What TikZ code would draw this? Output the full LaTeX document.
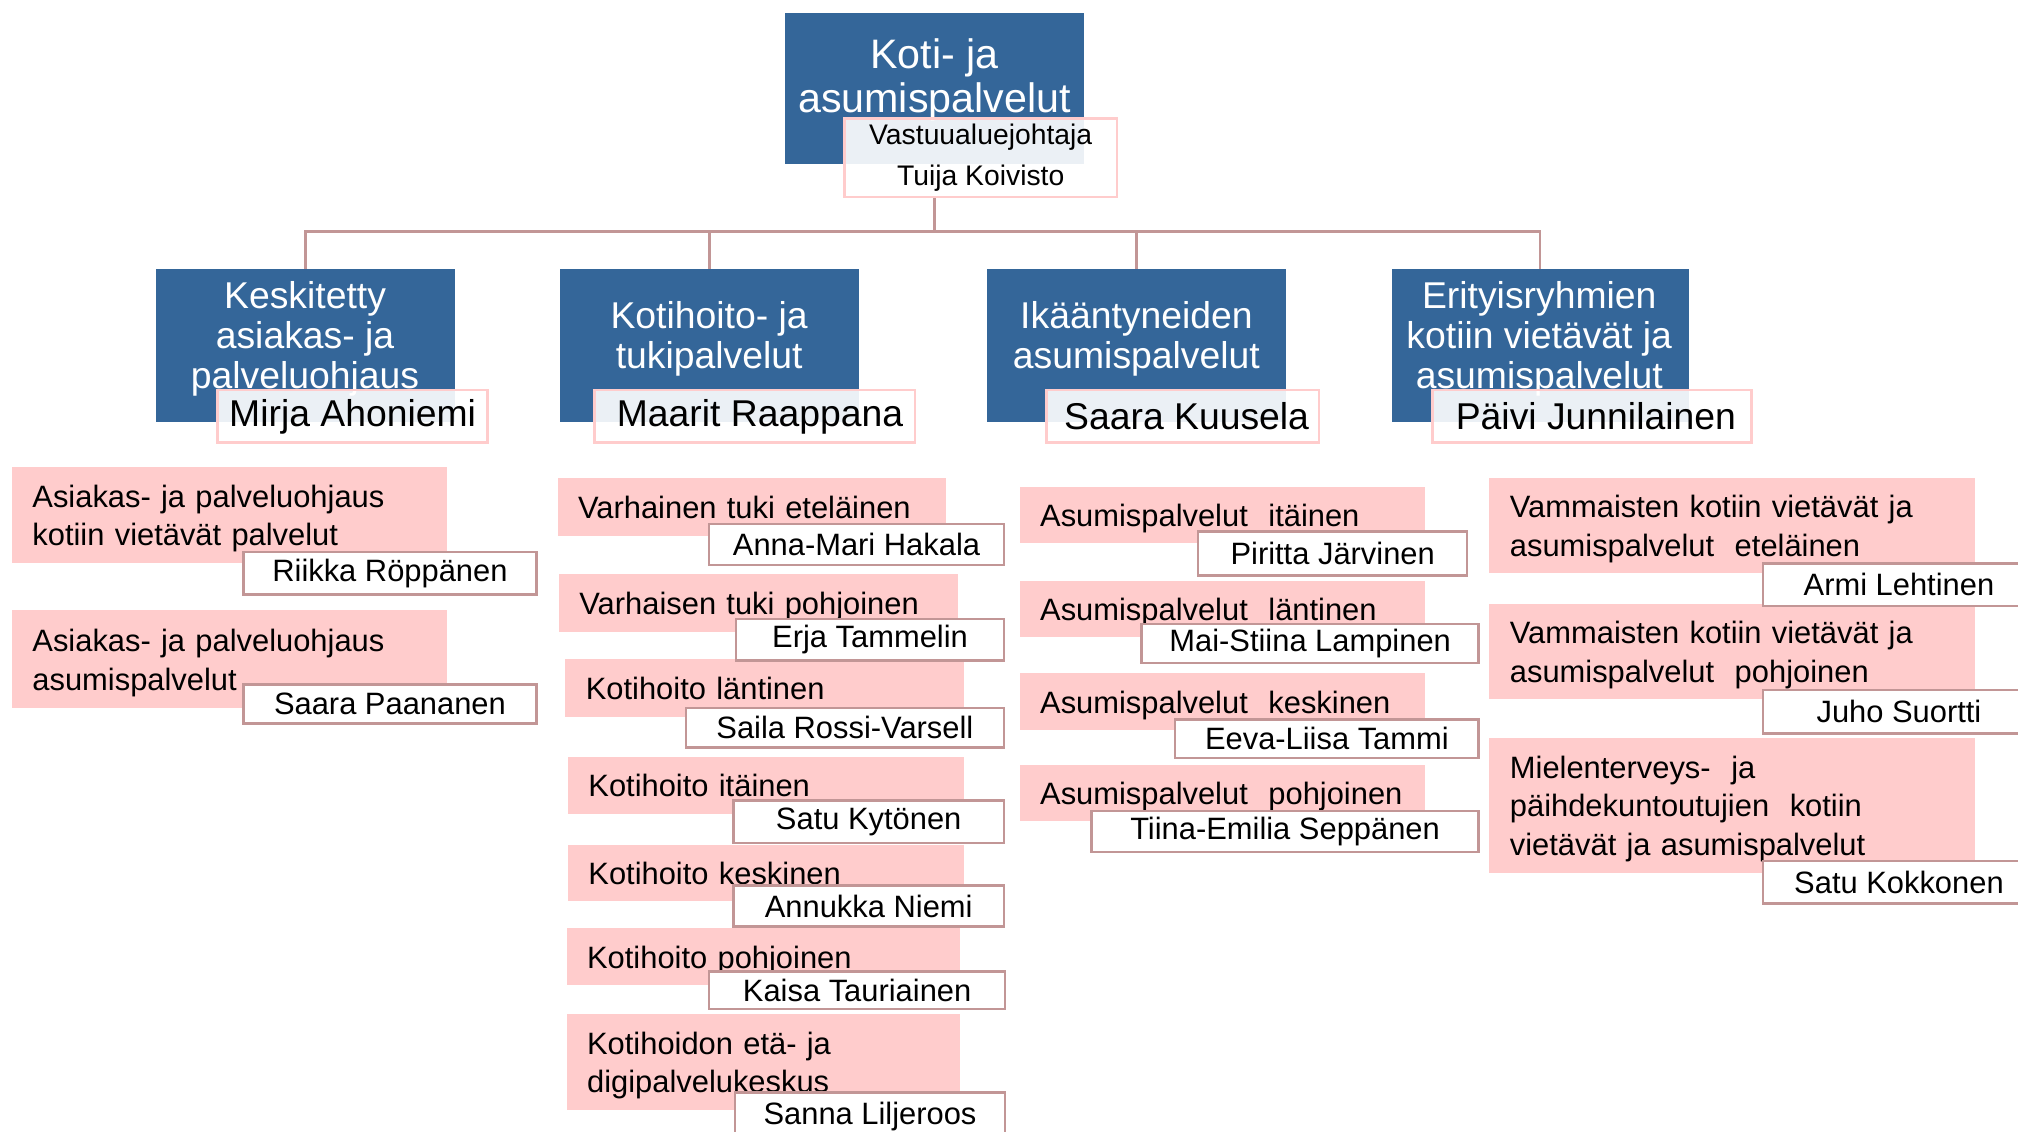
\documentclass[tikz,border=0pt]{standalone}
\usepackage{fontspec}
\setmainfont{Liberation Sans}
\usetikzlibrary{positioning}
\definecolor{unitblue}{RGB}{52,102,153}
\definecolor{teampink}{RGB}{255,204,204}
\definecolor{rosyline}{RGB}{194,150,150}
\tikzset{
    %Define style for the blue unit boxes
    unit/.style={
           rectangle,
           fill=unitblue,
           inner sep=0pt,
           anchor=north west},
    unittext/.style={
           text=white,
           align=center,
           font=\fontsize{29}{31}\selectfont},
    %Define style for the name boxes on the units
    head/.style={
           rectangle,
           draw=teampink, line width=2pt,
           fill=white, fill opacity=0.9, text opacity=1,
           inner sep=0pt,
           anchor=north west,
           font=\fontsize{29}{31}\selectfont},
    %Define style for the pink team boxes
    team/.style={
           rectangle,
           fill=teampink,
           inner xsep=16pt, inner ysep=0pt,
           align=left,
           anchor=north west,
           font=\fontsize{24}{30}\selectfont,
           execute at begin node={\rule{0pt}{24pt}},
           execute at end node={\rule[-6pt]{0pt}{0pt}}},
    %Define style for the leader boxes
    leader/.style={
           rectangle,
           draw=rosyline, line width=2pt,
           fill=white,
           inner sep=0pt,
           anchor=north west,
           font=\fontsize{24}{24}\selectfont},
    % Define sizes
    size/.style 2 args={minimum width=#1pt, minimum height=#2pt},
    tsize/.style 2 args={text width=#1pt, minimum height=#2pt},
    % Define line style
    link/.style={
           draw=rosyline,
           line width=2pt}
}
\begin{document}
\begin{tikzpicture}[x=1pt,y=-1pt]
\useasboundingbox (0,0) rectangle (1568,879);
\clip (0,0) rectangle (1568,879);
% top unit
\node[unit, size={232}{117}] (top) at (610,10) {};
\node[unittext, font=\fontsize{32}{34}\selectfont] (top-t) at (726,62) {Koti- ja\\asumispalvelut};
\node[head, size={212}{61}, align=center, font=\fontsize{22}{32}\selectfont] (head0) at (655,91) {Vastuualuejohtaja\\Tuija Koivisto};
% units
\node[unit, size={232}{119}] (kesk) at (121,209) {};
\node[unit, size={232}{119}] (koti) at (435,209) {};
\node[unit, size={232}{119}] (ikaa) at (767,209) {};
\node[unit, size={231}{119}] (erit) at (1081,209) {};
\node[unittext] (kesk-t) at (237,263) {Keskitetty\\asiakas- ja\\palveluohjaus};
\node[unittext] (koti-t) at (551,263) {Kotihoito- ja\\tukipalvelut};
\node[unittext] (ikaa-t) at (883,263) {Ikääntyneiden\\asumispalvelut};
\node[unittext] (erit-t) at (1196,263) {Erityisryhmien\\kotiin vietävät ja\\asumispalvelut};
\node[head, size={210}{41}] (head1) at (168,302) {Mirja Ahoniemi};
\node[head, size={249}{41}] (head2) at (461,302) {\hspace{8pt}Maarit Raappana};
\node[head, size={212}{41}] (head3) at (812,302) {\hspace{6pt}Saara Kuusela};
\node[head, size={248}{41}] (head4) at (1112,302) {\hspace{6pt}Päivi Junnilainen};
% teams
\node[team, tsize={306}{74}] (a1) at (9,363) {Asiakas- ja palveluohjaus\\kotiin vietävät palvelut};
\node[team, tsize={306}{76}] (a2) at (9,474) {Asiakas- ja palveluohjaus\\asumispalvelut};
\node[team, tsize={270}{45}] (b1) at (433,371) {Varhainen tuki eteläinen};
\node[team, tsize={278}{45}] (b2) at (434,446) {Varhaisen tuki pohjoinen};
\node[team, tsize={278}{45}] (b3) at (439,512) {Kotihoito läntinen};
\node[team, tsize={276}{44}] (b4) at (441,588) {Kotihoito itäinen};
\node[team, tsize={276}{44}] (b5) at (441,656) {Kotihoito keskinen};
\node[team, tsize={274}{44}] (b6) at (440,721) {Kotihoito pohjoinen};
\node[team, tsize={274}{74}] (b7) at (440,788) {Kotihoidon etä- ja\\digipalvelukeskus};
\node[team, tsize={283}{44}] (c1) at (792,378) {Asumispalvelut\ \ itäinen};
\node[team, tsize={283}{44}] (c2) at (792,451) {Asumispalvelut\ \ läntinen};
\node[team, tsize={283}{44}] (c3) at (792,523) {Asumispalvelut\ \ keskinen};
\node[team, tsize={283}{44}] (c4) at (792,594) {Asumispalvelut\ \ pohjoinen};
\node[team, tsize={345}{74}] (d1) at (1157,371) {Vammaisten kotiin vietävät ja\\asumispalvelut\ \ eteläinen};
\node[team, tsize={345}{74}] (d2) at (1157,469) {Vammaisten kotiin vietävät ja\\asumispalvelut\ \ pohjoinen};
\node[team, tsize={345}{105}] (d3) at (1157,573) {Mielenterveys-\ \ ja\\päihdekuntoutujien\ \ kotiin\\vietävät ja asumispalvelut};
% leaders
\node[leader, size={228}{33}] (a1-n) at (188,428) {Riikka Röppänen};
\node[leader, size={228}{30}] (a2-n) at (188,531) {Saara Paananen};
\node[leader, size={229}{32}] (b1-n) at (550,406) {Anna-Mari Hakala};
\node[leader, size={208}{32}] (b2-n) at (571,480) {Erja Tammelin};
\node[leader, size={247}{31}] (b3-n) at (532,549) {Saila Rossi-Varsell};
\node[leader, size={210}{33}] (b4-n) at (569,621) {Satu Kytönen};
\node[leader, size={210}{32}] (b5-n) at (569,687) {Annukka Niemi};
\node[leader, size={230}{29}] (b6-n) at (550,754) {Kaisa Tauriainen};
\node[leader, size={210}{37}] (b7-n) at (570,848) {Sanna Liljeroos};
\node[leader, size={209}{34}] (c1-n) at (930,412) {Piritta Järvinen};
\node[leader, size={262}{30}] (c2-n) at (886,484) {Mai-Stiina Lampinen};
\node[leader, size={236}{30}] (c3-n) at (912,558) {Eeva-Liisa Tammi};
\node[leader, size={301}{32}] (c4-n) at (847,629) {Tiina-Emilia Seppänen};
\node[leader, size={211}{33}] (d1-n) at (1369,437) {Armi Lehtinen};
\node[leader, size={211}{34}] (d2-n) at (1369,535) {Juho Suortti};
\node[leader, size={211}{33}] (d3-n) at (1369,668) {Satu Kokkonen};
% links
\coordinate (bus) at (0,180);
\draw[link] (top.south |- head0.south) -- (bus -| top.south);
\foreach \u in {kesk,koti,ikaa,erit}
  \draw[link] (bus -| top.south) -| (\u.north);
\end{tikzpicture}
\end{document}
